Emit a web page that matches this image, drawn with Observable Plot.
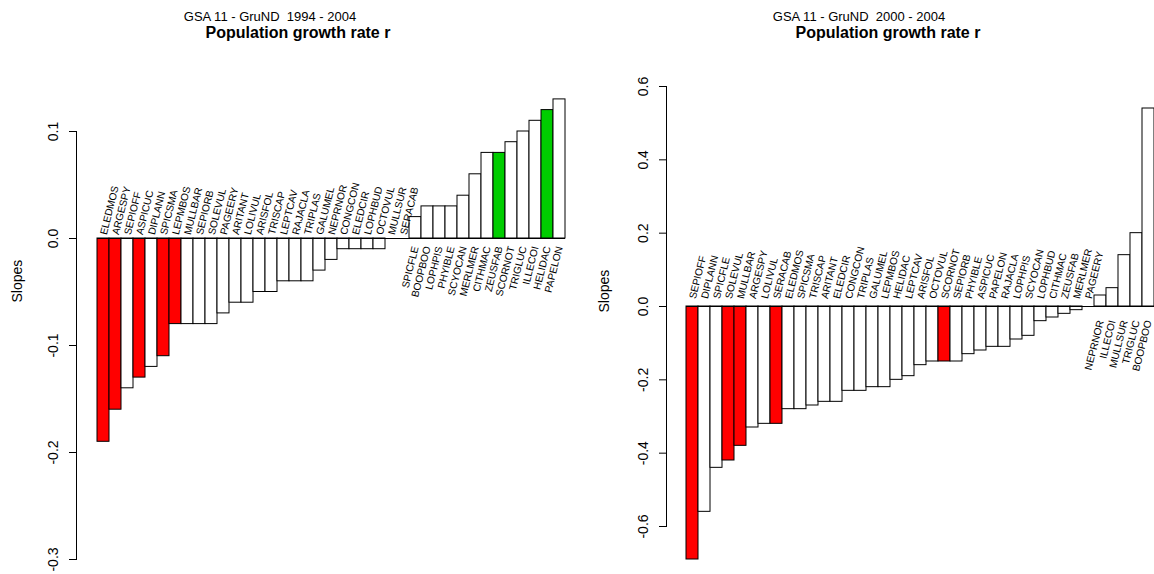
<!DOCTYPE html>
<html>
<head>
<meta charset="utf-8">
<script src="https://cdn.jsdelivr.net/npm/d3@7"></script>
<script src="https://cdn.jsdelivr.net/npm/@observablehq/plot@0.6"></script>
<style>
  html, body { margin: 0; padding: 0; background: #fff; overflow: hidden; }
  #page { position: relative; width: 1154px; height: 574px; font-family: "Liberation Sans", Arial, Helvetica, sans-serif; color: #000; }
  .panel { position: absolute; top: 0; width: 577px; height: 574px; }
  .panel svg { position: absolute; left: 0; top: 0; overflow: visible; }
  .sub, .main { position: absolute; width: 400px; text-align: center; white-space: pre; z-index: 2; }
  .sub { font-size: 13px; line-height: 13px; }
  .main { font-size: 16px; line-height: 16px; font-weight: bold; }
</style>
</head>
<body>
<div id="page"></div>
<script>
// Species codes and population growth slopes, GSA 11, period 1994 - 2004
const leftSpecies = ["ELEDMOS","ARGESPY","SEPIOFF","ASPICUC","DIPLANN","SPICSMA","LEPMBOS","MULLBAR","SEPIORB","SOLEVUL",
  "PAGEERY","ARITANT","LOLIVUL","ARISFOL","TRISCAP","LEPTCAV","RAJACLA","TRIPLAS","GALUMEL","NEPRNOR",
  "CONGCON","ELEDCIR","LOPHBUD","OCTOVUL","MULLSUR","SERACAB","SPICFLE","BOOPBOO","LOPHPIS","PHYIBLE",
  "SCYOCAN","MERLMER","CITHMAC","ZEUSFAB","SCORNOT","TRIGLUC","ILLECOI","HELIDAC","PAPELON"];
const leftSlopes = [-0.19,-0.16,-0.14,-0.13,-0.12,-0.11,-0.08,-0.08,-0.08,-0.08,
  -0.07,-0.06,-0.06,-0.05,-0.05,-0.04,-0.04,-0.04,-0.03,-0.02,
  -0.01,-0.01,-0.01,-0.01,0,0,0.02,0.03,0.03,0.03,
  0.04,0.06,0.08,0.08,0.09,0.10,0.11,0.12,0.13];
const leftDeclining = ["ELEDMOS","ARGESPY","ASPICUC","SPICSMA","LEPMBOS"];
const leftIncreasing = ["ZEUSFAB","HELIDAC"];
const leftTicks = [-0.3,-0.2,-0.1,0.0,0.1];

// Species codes and population growth slopes, GSA 11, period 2000 - 2004
const rightSpecies = ["SEPIOFF","DIPLANN","SPICFLE","SOLEVUL","MULLBAR","ARGESPY","LOLIVUL","SERACAB","ELEDMOS","SPICSMA",
  "TRISCAP","ARITANT","ELEDCIR","CONGCON","TRIPLAS","GALUMEL","LEPMBOS","HELIDAC","LEPTCAV","ARISFOL",
  "OCTOVUL","SCORNOT","SEPIORB","PHYIBLE","ASPICUC","PAPELON","RAJACLA","LOPHPIS","SCYOCAN","LOPHBUD",
  "CITHMAC","ZEUSFAB","MERLMER","PAGEERY","NEPRNOR","ILLECOI","MULLSUR","TRIGLUC","BOOPBOO"];
const rightSlopes = [-0.69,-0.56,-0.44,-0.42,-0.38,-0.33,-0.32,-0.32,-0.28,-0.28,
  -0.27,-0.26,-0.26,-0.23,-0.23,-0.22,-0.22,-0.20,-0.19,-0.16,
  -0.15,-0.15,-0.15,-0.13,-0.12,-0.11,-0.11,-0.09,-0.08,-0.04,
  -0.03,-0.02,-0.01,0,0.03,0.05,0.14,0.20,0.54];
const rightDeclining = ["SEPIOFF","SOLEVUL","MULLBAR","SERACAB","SCORNOT"];
const rightIncreasing = [];
const rightTicks = [-0.6,-0.4,-0.2,0.0,0.2,0.4,0.6];

const FONT = '"Liberation Sans", Arial, Helvetica, sans-serif';
const W = 577, H = 574;

function slopePanel(species, slopes, declining, increasing, ticks, lay) {
  const rows = species.map((name, i) => ({
    name,
    slope: slopes[i],
    fill: declining.includes(name) ? "#ff0000" : increasing.includes(name) ? "#00cd00" : "#ffffff"
  }));
  const zero = () => 0;
  return Plot.plot({
    width: W,
    height: H,
    marginLeft: lay.axisX,
    marginRight: 0,
    marginTop: lay.top,
    marginBottom: H - lay.bottom,
    style: {fontFamily: FONT, fontSize: "14px", color: "#000", background: "transparent", overflow: "visible"},
    x: {domain: species, range: [lay.x0, lay.x1], padding: 0, axis: null},
    y: {domain: [ticks[0], ticks[ticks.length - 1]], axis: null},
    color: {type: "identity"},
    marks: [
      Plot.frame({anchor: "left", stroke: "#000"}),
      Plot.axisY({ticks, label: null, tickSize: 7, tickPadding: 12, tickRotate: -90, tickFormat: d => d.toFixed(1), fontSize: 14}),
      Plot.barY(rows, {x: "name", y: "slope", fill: "fill", stroke: "#000", strokeWidth: 1}),
      Plot.tickY(rows, {x: "name", y: zero, stroke: "#000", strokeWidth: 1}),
      Plot.text(rows.filter(d => d.slope <= 0), {x: "name", y: zero, text: "name", rotate: -76, textAnchor: "start", dy: -lay.negGap, fontSize: 10.2}),
      Plot.text(rows.filter(d => d.slope > 0), {x: "name", y: zero, text: "name", rotate: -76, textAnchor: "end", dy: lay.posGap, fontSize: 10.2}),
      Plot.text(["Slopes"], {frameAnchor: "left", rotate: -90, dx: lay.labDx, dy: lay.labDy, fontSize: 14})
    ]
  });
}

function addPanel(left, svg, subtitle, subCx, mainCx) {
  const page = document.getElementById("page");
  const div = document.createElement("div");
  div.className = "panel";
  div.style.left = left + "px";
  div.appendChild(svg);
  const sub = document.createElement("div");
  sub.className = "sub";
  sub.textContent = subtitle;
  sub.style.left = (subCx - 200) + "px";
  sub.style.top = "10px";
  const main = document.createElement("div");
  main.className = "main";
  main.textContent = "Population growth rate r";
  main.style.left = (mainCx - 200) + "px";
  main.style.top = "25px";
  div.appendChild(sub);
  div.appendChild(main);
  page.appendChild(div);
}

addPanel(0,
  slopePanel(leftSpecies, leftSlopes, leftDeclining, leftIncreasing, leftTicks,
    {axisX: 76, top: 131, bottom: 559, x0: 95, x1: 567, negGap: 4, posGap: 8, labDx: -59, labDy: -43}),
  "GSA 11 - GruND  1994 - 2004", 270, 298);

addPanel(577,
  slopePanel(rightSpecies, rightSlopes, rightDeclining, rightIncreasing, rightTicks,
    {axisX: 89, top: 86, bottom: 526, x0: 108.3, x1: 578.6, negGap: 8, posGap: 14, labDx: -62, labDy: 6}),
  "GSA 11 - GruND  2000 - 2004", 282, 311);
</script>
</body>
</html>
